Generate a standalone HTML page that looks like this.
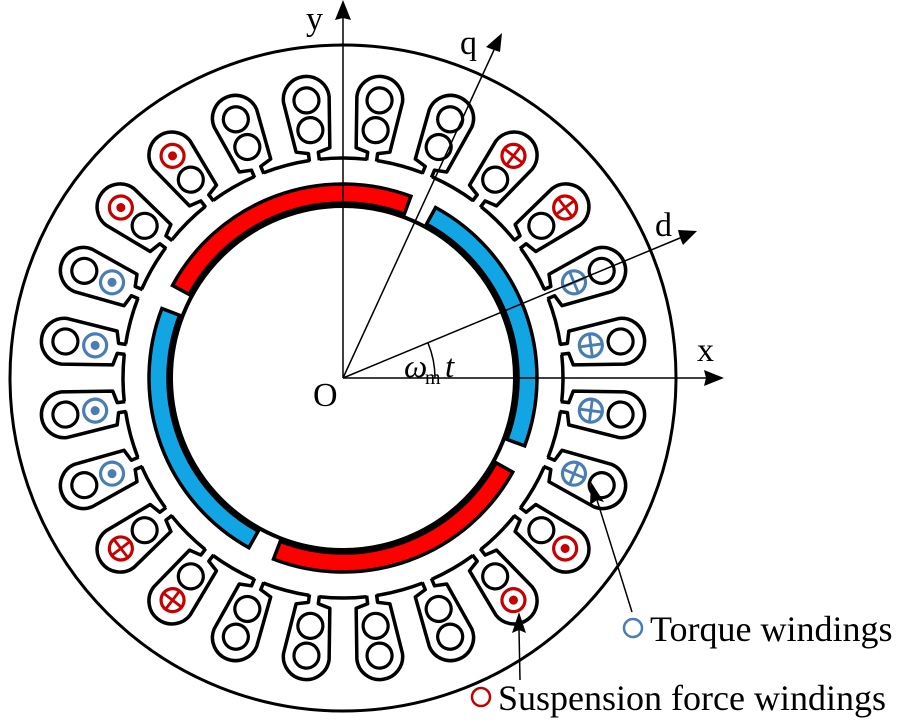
<!DOCTYPE html>
<html><head><meta charset="utf-8"><style>
html,body{margin:0;padding:0;background:#fff;}
svg{display:block;}
text{font-family:"Liberation Serif",serif;fill:#000;}
</style></head><body>
<svg width="900" height="721" viewBox="0 0 900 721" xmlns="http://www.w3.org/2000/svg">
<defs>
<g id="slot">
<path d="M219,-5 L227,-5 L230,-17 L281,-23 A23,23 0 0 1 281,23 L230,17 L227,5 L219,5" fill="#fff" stroke="#000" stroke-width="3.5" stroke-linejoin="round"/>
</g>
</defs>
<circle cx="343" cy="378" r="333" fill="none" stroke="#000" stroke-width="3"/>
<circle cx="343" cy="378" r="220" fill="none" stroke="#000" stroke-width="3.5" stroke-dasharray="47.6 10" stroke-dashoffset="23.8"/>
<g transform="translate(343,378)" id="slots"></g>
<g transform="translate(343,378)" stroke="#000" stroke-width="3.5">
<path id="m1" d="" fill="#f00"/>
<path id="m2" d="" fill="#12a5e3"/>
<path id="m3" d="" fill="#f00"/>
<path id="m4" d="" fill="#12a5e3"/>
</g>
<circle cx="343" cy="378" r="172" fill="none" stroke="#000" stroke-width="4"/>
<g stroke="#000" stroke-width="1.5">
<line x1="343" y1="378" x2="706" y2="378"/>
<line x1="343" y1="378" x2="343" y2="18"/>
<line x1="343" y1="378" x2="494" y2="50"/>
<line x1="343" y1="378" x2="680" y2="238"/>
</g>
<polygon points="724,378 704,370 706,378 704,386" fill="#000"/>
<polygon points="343,0 335,20 343,18 351,20" fill="#000"/>
<polygon points="502,33 486,47 494,50 500,52" fill="#000"/>
<polygon points="697,231 678,230 680,238 683,245" fill="#000"/>
<path d="M435,378 A92,92 0 0 0 428,343" fill="none" stroke="#000" stroke-width="1.5"/>
<text x="306" y="30" font-size="34">y</text>
<text x="460" y="54" font-size="34">q</text>
<text x="655" y="236" font-size="34">d</text>
<text x="697" y="361" font-size="34">x</text>
<text x="313" y="406" font-size="34">O</text>
<text x="404" y="377" font-size="33" font-style="italic">ω</text>
<text x="425" y="384" font-size="20">m</text>
<text x="445" y="377" font-size="33" font-style="italic">t</text>
<line x1="632" y1="612" x2="597" y2="500" stroke="#000" stroke-width="1.5"/>
<polygon points="591,482 590,505 597,500 604,502" fill="#000"/>
<line x1="520" y1="680" x2="519" y2="630" stroke="#000" stroke-width="1.5"/>
<polygon points="519,612 512,633 519,630 526,633" fill="#000"/>
<circle cx="633" cy="628" r="9" fill="none" stroke="#4a7db3" stroke-width="2.5"/>
<text x="650" y="641" font-size="36">Torque windings</text>
<circle cx="481" cy="697" r="9" fill="none" stroke="#c00000" stroke-width="2.5"/>
<text x="498" y="710" font-size="36">Suspension force windings</text>
</svg>
<script>
(function(){
var g=document.getElementById("slots");
var blue="#4a7db3",red="#c80000";
var spec={};
[-7.5,7.5,22.5,-22.5].forEach(function(a){spec[a]={inner:["x",blue]};});
[157.5,172.5,187.5,202.5].forEach(function(a){spec[a]={inner:["d",blue]};});
[-37.5,-52.5,127.5,142.5].forEach(function(a){spec[a]={outer:["x",red]};});
[37.5,52.5,217.5,232.5].forEach(function(a){spec[a]={outer:["d",red]};});
function sym(type,col,x){
 var s='<circle cx="'+x+'" cy="0" r="11.5" fill="#fff" stroke="'+col+'" stroke-width="3.2"/>';
 if(type=="d") s+='<circle cx="'+x+'" cy="0" r="4.5" fill="'+col+'"/>';
 else s+='<line x1="'+(x-11)+'" y1="0" x2="'+(x+11)+'" y2="0" stroke="'+col+'" stroke-width="2.8"/><line x1="'+x+'" y1="-11" x2="'+x+'" y2="11" stroke="'+col+'" stroke-width="2.8"/>';
 return s;
}
var blk=function(x){return '<circle cx="'+x+'" cy="0" r="12.5" fill="none" stroke="#000" stroke-width="3.2"/>';};
var html="";
for(var k=0;k<24;k++){
 var a=7.5+15*k; if(a>232.5) a-=360;
 var sp=spec[a]||{};
 var s='<g transform="rotate('+a+')"><use href="#slot"/>';
 s+= sp.inner?sym(sp.inner[0],sp.inner[1],250):blk(250);
 s+= sp.outer?sym(sp.outer[0],sp.outer[1],280):blk(280);
 s+='</g>';
 html+=s;
}
g.innerHTML=html;
function arc(c){
 var r1=175,r2=194,a1=(c-41)*Math.PI/180,a2=(c+41)*Math.PI/180;
 function p(r,a){return (r*Math.cos(a)).toFixed(1)+","+(r*Math.sin(a)).toFixed(1);}
 return "M"+p(r1,a1)+" L"+p(r2,a1)+" A"+r2+","+r2+" 0 0 1 "+p(r2,a2)+" L"+p(r1,a2)+" A"+r1+","+r1+" 0 0 0 "+p(r1,a1)+"Z";
}
document.getElementById("m1").setAttribute("d",arc(-110.5));
document.getElementById("m2").setAttribute("d",arc(-20.5));
document.getElementById("m3").setAttribute("d",arc(70));
document.getElementById("m4").setAttribute("d",arc(160));
})();
</script>
</body></html>
